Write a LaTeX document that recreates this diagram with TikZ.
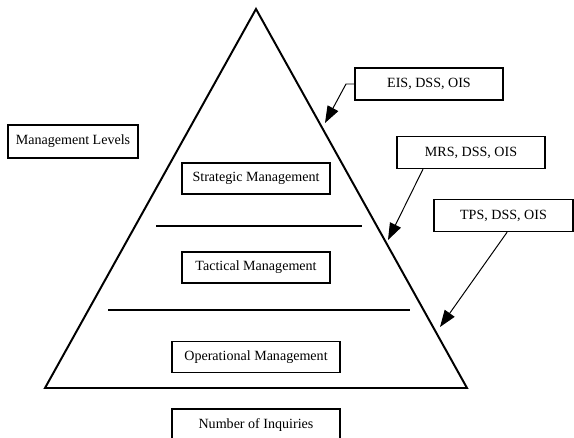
\documentclass[tikz,border=0pt]{standalone}
\usepackage{fontspec}
\setmainfont{Liberation Serif}
\usetikzlibrary{arrows.meta, positioning, calc}
\tikzset{
  lvl/.style={rectangle, draw=black, line width=1pt, fill=white,
    minimum width=3.7cm, minimum height=0.78cm, inner sep=2pt,
    font=\fontsize{10}{12}\selectfont},
  lvlW/.style={lvl, minimum width=4.2cm},
  sys/.style={lvl, minimum height=0.8cm},
  edge/.style={line width=1.4pt, line join=miter},
  sep/.style={line width=1.2pt},
  arr/.style={-{Triangle[length=0.42cm, width=0.3cm]}, line width=0.7pt},
}

\begin{document}
\begin{tikzpicture}[x=0.025cm, y=-0.025cm]
  \useasboundingbox (0,0) rectangle (574,438);

  % pyramid
  \coordinate (apex) at (256,9);
  \coordinate (bl) at (45,388);
  \coordinate (br) at (467,388);
  \draw[edge] (apex) -- (br) -- (bl) -- cycle;

  \draw[sep] (156,226) -- (362,226);
  \draw[sep] (108,310) -- (410,310);

  % levels
  \node[lvl]  (strat) at (256,178.5) {Strategic Management};
  \node[lvl]  (tact)  at (256,267.5) {Tactical Management};
  \node[lvlW] (oper)  at (256,357)   {Operational Management};
  \node[lvlW, minimum height=0.8cm] (inq) at (256,425) {Number of Inquiries};
  \node[lvl, minimum width=3.25cm, minimum height=0.83cm] (levels)
       at (73,141.5) {Management Levels};

  % information systems
  \node[sys] (eis) at (429,84)    {EIS, DSS, OIS};
  \node[sys] (mrs) at (471,152.5) {MRS, DSS, OIS};
  \node[sys, minimum width=3.475cm] (tps) at (503.5,215.5) {TPS, DSS, OIS};

  \coordinate (eisBend) at (346,84);
  \coordinate (eisTip)  at (325,123);
  \coordinate (mrsTip)  at (388,240);
  \coordinate (tpsTip)  at (440,327);

  \draw[arr] (eis.west) -- (eisBend) -- (eisTip);
  \draw[arr] ([xshift=-1.2cm]mrs.south) -- (mrsTip);
  \draw[arr] ([xshift=0.09cm]tps.south) -- (tpsTip);
\end{tikzpicture}
\end{document}
